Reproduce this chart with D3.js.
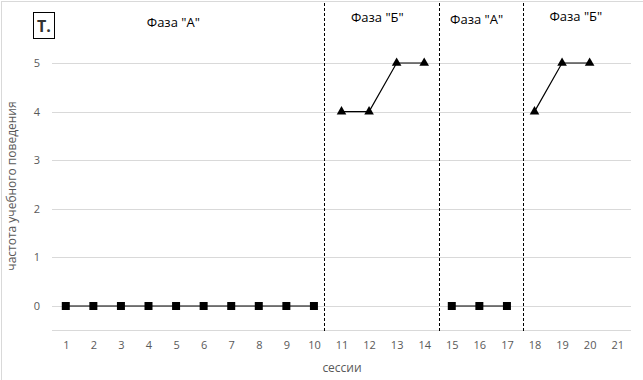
<!DOCTYPE html>
<html>
<head>
<meta charset="utf-8">
<script src="https://cdn.jsdelivr.net/npm/d3@7"></script>
<style>
  body { margin: 0; background: #fff; }
  text { font-family: "Open Sans", "Noto Sans", sans-serif; }
</style>
</head>
<body>
<div id="chart"></div>
<script>
// Data
var sessions = d3.range(1, 22);
var yTicks = [0, 1, 2, 3, 4, 5];

var phaseA1 = [[1, 0], [2, 0], [3, 0], [4, 0], [5, 0], [6, 0], [7, 0], [8, 0], [9, 0], [10, 0]];
var phaseB1 = [[11, 4], [12, 4], [13, 5], [14, 5]];
var phaseA2 = [[15, 0], [16, 0], [17, 0]];
var phaseB2 = [[18, 4], [19, 5], [20, 5]];

var phaseBreaks = [10.37, 14.53, 17.58];
var phaseLabels = [
    { text: "Фаза \"А\"", x: 4.9, y: 5.74 },
    { text: "Фаза \"Б\"", x: 12.3, y: 5.84 },
    { text: "Фаза \"А\"", x: 15.9, y: 5.8 },
    { text: "Фаза \"Б\"", x: 19.5, y: 5.86 }
];

// Chart parameters
var svgWidth = 643;
var svgHeight = 380;

var svg = d3.select("#chart")
    .append("svg")
    .attr("width", svgWidth)
    .attr("height", svgHeight);

// chart area border
svg.append("rect")
    .attr("x", 1.5)
    .attr("y", 1.5)
    .attr("width", svgWidth + 10)
    .attr("height", svgHeight + 10)
    .attr("fill", "none")
    .attr("stroke", "#d9d9d9");

var x = d3.scaleLinear()
    .domain([0.5, 21.5])
    .range([52, 631]);

var y = d3.scaleLinear()
    .domain([0, 5])
    .range([306, 63]);

// Gridlines
svg.append("g")
    .selectAll("line")
    .data(yTicks.concat([-0.5]))
    .enter()
    .append("line")
    .attr("x1", x(0.5))
    .attr("x2", x(21.5))
    .attr("y1", d => Math.round(y(d)) + 0.5)
    .attr("y2", d => Math.round(y(d)) + 0.5)
    .attr("stroke", "#d9d9d9")
    .attr("stroke-width", 1);

// Y axis labels
var yAxis = svg.append("g")
    .attr("transform", `translate(${x(0.5)}, 0)`)
    .call(d3.axisLeft(y).tickValues(yTicks).tickSize(0).tickPadding(12).tickFormat(d3.format("d")));
yAxis.select(".domain").remove();
yAxis.selectAll("text")
    .attr("fill", "#595959")
    .style("font-size", "11px");

// X axis labels
var xAxis = svg.append("g")
    .attr("transform", `translate(0, ${y(-0.5)})`)
    .call(d3.axisBottom(x).tickValues(sessions).tickSize(0).tickPadding(11).tickFormat(d3.format("d")));
xAxis.select(".domain").remove();
xAxis.selectAll("text")
    .attr("fill", "#595959")
    .style("font-size", "11px");

// Axis titles
svg.append("text")
    .attr("transform", "rotate(-90)")
    .attr("x", -186)
    .attr("y", 16)
    .attr("text-anchor", "middle")
    .attr("fill", "#595959")
    .style("font-size", "12px")
    .text("частота учебного поведения");

svg.append("text")
    .attr("x", 342)
    .attr("y", 372)
    .attr("text-anchor", "middle")
    .attr("fill", "#595959")
    .style("font-size", "12px")
    .text("сессии");

// Phase change lines
svg.append("g")
    .selectAll("line")
    .data(phaseBreaks)
    .enter()
    .append("line")
    .attr("x1", d => Math.round(x(d)) + 0.5)
    .attr("x2", d => Math.round(x(d)) + 0.5)
    .attr("y1", 3)
    .attr("y2", y(-0.5) + 1)
    .attr("stroke", "#000")
    .attr("stroke-width", 1)
    .attr("stroke-dasharray", "3,2");

// Phase labels
svg.append("g")
    .selectAll("text")
    .data(phaseLabels)
    .enter()
    .append("text")
    .attr("x", d => x(d.x))
    .attr("y", d => y(d.y))
    .attr("text-anchor", "middle")
    .attr("fill", "#000")
    .style("font-size", "13px")
    .text(d => d.text);

// "Т." label box
svg.append("rect")
    .attr("x", 33.5)
    .attr("y", 12.5)
    .attr("width", 21)
    .attr("height", 26)
    .attr("fill", "#fff")
    .attr("stroke", "#000");
svg.append("text")
    .attr("x", 44)
    .attr("y", 32)
    .attr("text-anchor", "middle")
    .attr("fill", "#333")
    .style("font-size", "16px")
    .style("font-weight", "bold")
    .text("Т.");

// Lines
var line = d3.line()
    .x(d => x(d[0]))
    .y(d => y(d[1]));

var series = [
    { data: phaseA1, marker: "square" },
    { data: phaseB1, marker: "triangle" },
    { data: phaseA2, marker: "square" },
    { data: phaseB2, marker: "triangle" }
];

series.forEach(function (s) {
    svg.append("path")
        .datum(s.data)
        .attr("d", line)
        .attr("fill", "none")
        .attr("stroke", "#000")
        .attr("stroke-width", 1.2);

    var sym = s.marker === "square"
        ? d3.symbol().type(d3.symbolSquare).size(64)
        : d3.symbol().type(d3.symbolTriangle).size(40);

    svg.append("g")
        .selectAll("path")
        .data(s.data)
        .enter()
        .append("path")
        .attr("d", sym)
        .attr("transform", d => `translate(${x(d[0])}, ${y(d[1])})`)
        .attr("fill", "#000");
});
</script>
</body>
</html>
